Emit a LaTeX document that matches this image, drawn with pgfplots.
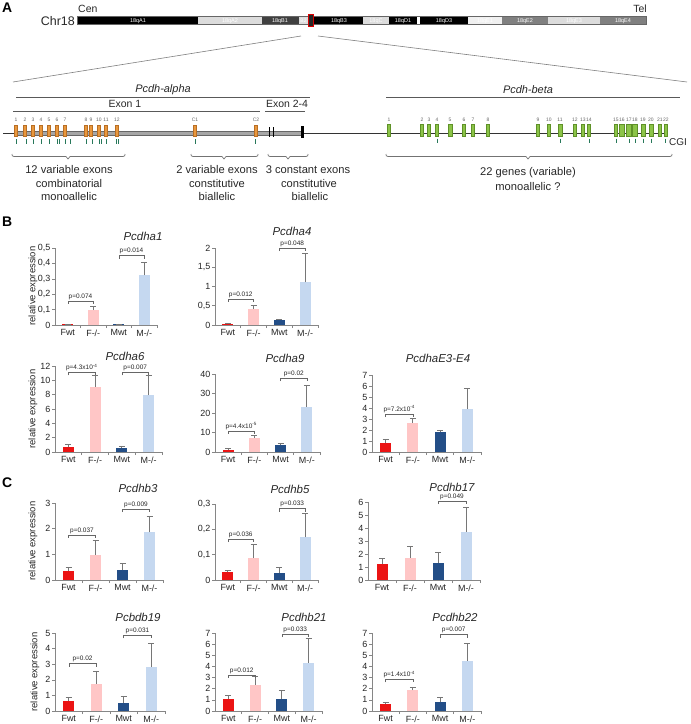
\documentclass[border=0pt]{standalone}
\usepackage{fontspec}
\setmainfont{Liberation Sans}
\usepackage{pgfplots}
\pgfplotsset{compat=1.18}
\usetikzlibrary{calc}

\definecolor{cFwt}{RGB}{235,20,20}
\definecolor{cFko}{RGB}{255,198,198}
\definecolor{cMwt}{RGB}{35,78,135}
\definecolor{cMko}{RGB}{197,216,240}
\definecolor{axgray}{RGB}{134,134,134}
\definecolor{errgray}{RGB}{118,118,118}
\definecolor{exor}{RGB}{232,152,62}
\definecolor{exorD}{RGB}{185,110,35}
\definecolor{bgr}{RGB}{140,196,72}
\definecolor{bgrD}{RGB}{95,145,40}
\definecolor{cgi}{RGB}{40,120,90}
\definecolor{txt}{RGB}{40,40,40}
\definecolor{bandL}{RGB}{220,220,220}
\definecolor{bandW}{RGB}{240,240,240}
\definecolor{bandG}{RGB}{128,128,128}
\definecolor{bandD}{RGB}{64,64,64}

\newcommand{\fs}[1]{\fontsize{#1}{#1}\selectfont}

\pgfplotsset{
  rx/.style={
    scale only axis, clip=false, anchor=south west,
    xmin=0, xmax=4, ymin=0,
    axis x line*=bottom, axis y line*=left,
    axis line style={draw=axgray, line width=0.7bp},
    xtick={0.5,1.5,2.5,3.5}, xticklabels={Fwt,F-/-,Mwt,M-/-},
    minor xtick={1,2,3,4},
    major x tick style={draw=none},
    minor x tick style={draw=axgray, line width=0.6bp},
    y tick style={draw=axgray, line width=0.6bp},
    tick align=outside, major tick length=3bp, minor tick length=3bp,
    tick label style={font=\fs{9}, text=black!85},
    xticklabel style={inner sep=1.5bp},
    yticklabel style={/pgf/number format/use comma, /pgf/number format/fixed, /pgf/number format/assume math mode=true, inner sep=1.5bp},
  },
  bb/.style={ybar, bar width=11bp, bar shift=0pt, draw=none,
    error bars/y dir=plus, error bars/y explicit,
    error bars/error bar style={draw=errgray, line width=0.8bp},
    error bars/error mark options={draw=errgray, line width=0.8bp, mark size=3bp, rotate=90}},
}
% x1, x2, level, leg bottom, text
\newcommand{\pbr}[5]{%
  \draw[draw=black!60, line width=0.5bp] (axis cs:#1,#4) -- (axis cs:#1,#3) -- (axis cs:#2,#3) -- (axis cs:#2,#4);
  \node[font=\fs{6.5}, text=black!85, anchor=south, inner sep=1.2bp] at ($(axis cs:#1,#3)!0.5!(axis cs:#2,#3)$) {#5};
}

\begin{document}
\begin{tikzpicture}
\useasboundingbox (0,0) rectangle (691bp,-724bp);
\fill[white] (0,0) rectangle (691bp,-724bp);

\begin{scope}[x=1bp,y=-1bp]
% panel letters
\node[font=\fs{14}\bfseries, anchor=west, inner sep=0] at (2,8) {A};
\node[font=\fs{14}\bfseries, anchor=west, inner sep=0] at (2,222) {B};
\node[font=\fs{14}\bfseries, anchor=west, inner sep=0] at (2,483) {C};

% chromosome
\node[font=\fs{12.5}, anchor=east, inner sep=0, text=txt] at (75,21) {Chr18};
\node[font=\fs{10.5}, anchor=west, inner sep=0, text=txt] at (78,9) {Cen};
\node[font=\fs{10.5}, anchor=east, inner sep=0, text=txt] at (647,9) {Tel};
\foreach \a/\b/\c in {77/198/black, 198/262/bandL, 262/299/bandD, 299/308/bandL, 308/313/black, 313/363/black, 363/389/bandL, 389/417/black, 417/420/white, 420/468/black, 468/502/bandW, 502/548/bandG, 548/600/bandL, 600/646/bandG}
  \fill[\c] (\a,16.5) rectangle (\b,24.5);
\draw[black!60, line width=0.4bp] (77,16.5) rectangle (646,24.5);
\foreach \x/\t in {138/18qA1, 230/18qA2, 280/18qB1, 339/18qB3, 376/18qC, 403/18qD1, 444/18qD3, 485/18qE1, 525/18qE2, 574/18qE3, 623/18qE4}
  \node[font=\fs{5.5}, text=white, inner sep=0] at (\x,20.7) {\t};
\node[font=\fs{5}, text=white, inner sep=0] at (303.5,20.7) {B2};
\draw[red!85!black, line width=1bp, fill=black!85] (308,14.5) rectangle (313.5,26.5);
\draw[gray, line width=0.6bp] (301,36) -- (13,82);
\draw[gray, line width=0.6bp] (318,36) -- (687,82);

% cluster headers
\node[font=\fs{11}\itshape, text=txt] at (163,90) {Pcdh-alpha};
\draw[black!65, line width=0.7bp] (16,97) -- (310,97);
\node[font=\fs{10.5}, text=txt] at (125,104) {Exon 1};
\node[font=\fs{10.5}, text=txt] at (287,104) {Exon 2-4};
\draw[black!65, line width=0.7bp] (13,111) -- (260,111);
\draw[black!65, line width=0.7bp] (265,111) -- (305,111);
\node[font=\fs{11}\itshape, text=txt] at (528,90) {Pcdh-beta};
\draw[black!65, line width=0.7bp] (386,97) -- (680,97);

% gene track
\draw[black!80, line width=0.8bp] (3,133) -- (668,133);
\fill[black!35] (16,131) rectangle (302,135);
\draw[black!60, line width=0.5bp] (16,131) -- (302,131) (16,135) -- (302,135);
\foreach \x/\l in {16/1,25/2,33/3,41/4,49/5,57/6,65/7,86/8,91/9,99/10,106/11,117/12,195/C1,256/C2} {
  \draw[exorD, fill=exor, line width=0.4bp] (\x-1.5,125) rectangle (\x+1.5,136.5);
  \node[font=\fs{5}, text=black!60, inner sep=0] at (\x,120) {\l};
}
\fill[black] (268.5,127) rectangle (269.5,137);
\fill[black] (272.5,127) rectangle (273.5,137);
\fill[black] (300.5,126) rectangle (303.5,137.5);
\foreach \x in {16,26,33,41,49,57,59,65,70,86,92,99,101,106,116,118,195,255}
  \draw[cgi, line width=0.6bp] (\x,139) -- (\x,143.5);
\foreach \x/\w/\l in {389/3/1,422/3/2,429/3/3,437/3/4,450/4/5,464/3/6,473/3/7,488/3/8,538/3/9,549/3/10,560/4/11,575/3/12,583/3/13,589/3/14,616/3/15,622/5/16,629/5/17,635/5/18,643/4/19,651/4/20,660/3/21,666/3/22} {
  \draw[bgrD, fill=bgr, line width=0.4bp] (\x-\w/2,124) rectangle (\x+\w/2,136);
  \node[font=\fs{5}, text=black!60, inner sep=0] at (\x,119.5) {\l};
}
\foreach \x in {437,560,589,616,629,635,643,651,665}
  \draw[cgi, line width=0.6bp] (\x,138.5) -- (\x,143);
\node[font=\fs{10}, anchor=west, inner sep=0, text=txt] at (669,142) {CGI};

% braces
\foreach \a/\c/\b in {12/68/125, 191/224/258, 268/288/308, 386/528/672}
  \draw[black!55, line width=0.7bp] (\a,154) .. controls (\a,156) .. (\a+2,156.5) -- (\c-2,156.5) -- (\c,159) -- (\c+2,156.5) -- (\b-2,156.5) .. controls (\b,156) .. (\b,154);

\begin{scope}[every node/.style={font=\fs{11.2}, text=txt, inner sep=0}]
\node at (69,170) {12 variable exons};
\node at (69,183.5) {combinatorial};
\node at (69,197) {monoallelic};
\node at (217,170) {2 variable exons};
\node at (217,183.5) {constitutive};
\node at (217,197) {biallelic};
\node at (308,170) {3 constant exons};
\node at (309,183.5) {constitutive};
\node at (310,197) {biallelic};
\node at (528,173) {22 genes (variable)};
\node at (528,187) {monoallelic ?};
\end{scope}

% chart titles and y labels
\begin{scope}[every node/.style={font=\fs{11.5}\itshape, text=txt, inner sep=0}]
\node at (143,236) {Pcdha1};
\node at (292,231) {Pcdha4};
\node at (125,356) {Pcdha6};
\node at (285,358) {Pcdha9};
\node at (438,358) {PcdhaE3-E4};
\node at (138,488) {Pcdhb3};
\node at (290,489) {Pcdhb5};
\node at (452,487) {Pcdhb17};
\node at (138,617) {Pcbdb19};
\node at (304,617) {Pcdhb21};
\node at (455,617) {Pcdhb22};
\end{scope}
\begin{scope}[every node/.style={font=\fs{9.5}, text=black!85, inner sep=0, rotate=90}]
\node at (33,286) {relative expression};
\node at (33,409) {relative expression};
\node at (33,541) {relative expression};
\node at (35,672) {relative expression};
\end{scope}
\end{scope}

% ---------------- Pcdha1
\begin{axis}[rx, at={(55bp,-325bp)}, width=102bp, height=77bp, ymax=0.5, ytick={0,0.1,0.2,0.3,0.4,0.5}]
\addplot[bb, fill=cFwt] coordinates {(0.5,0.004) +- (0,0.002)};
\addplot[bb, fill=cFko] coordinates {(1.5,0.097) +- (0,0.026)};
\addplot[bb, fill=cMwt] coordinates {(2.5,0.005) +- (0,0.002)};
\addplot[bb, fill=cMko] coordinates {(3.5,0.322) +- (0,0.084)};
\pbr{0.5}{1.5}{0.156}{0.137}{p=0.074}
\pbr{2.5}{3.5}{0.45}{0.431}{p=0.014}
\end{axis}
% ---------------- Pcdha4
\begin{axis}[rx, at={(215bp,-325bp)}, width=103bp, height=77bp, ymax=2, ytick={0,0.5,1,1.5,2}]
\addplot[bb, fill=cFwt] coordinates {(0.5,0.03) +- (0,0.01)};
\addplot[bb, fill=cFko] coordinates {(1.5,0.42) +- (0,0.09)};
\addplot[bb, fill=cMwt] coordinates {(2.5,0.14) +- (0,0.015)};
\addplot[bb, fill=cMko] coordinates {(3.5,1.11) +- (0,0.74)};
\pbr{0.5}{1.5}{0.68}{0.60}{p=0.012}
\pbr{2.5}{3.5}{2.0}{1.92}{p=0.048}
\end{axis}
% ---------------- Pcdha6
\begin{axis}[rx, at={(55bp,-452bp)}, width=107bp, height=86bp, ymax=12, ytick={0,2,4,6,8,10,12}]
\addplot[bb, fill=cFwt] coordinates {(0.5,0.65) +- (0,0.35)};
\addplot[bb, fill=cFko] coordinates {(1.5,9.1) +- (0,1.6)};
\addplot[bb, fill=cMwt] coordinates {(2.5,0.55) +- (0,0.3)};
\addplot[bb, fill=cMko] coordinates {(3.5,7.9) +- (0,2.8)};
\pbr{0.5}{1.5}{11.1}{10.7}{p=4.3x10\textsuperscript{-4}}
\pbr{2.5}{3.5}{11.1}{10.7}{p=0.007}
\end{axis}
% ---------------- Pcdha9
\begin{axis}[rx, at={(215bp,-452bp)}, width=105bp, height=78bp, ymax=40, ytick={0,10,20,30,40}]
\addplot[bb, fill=cFwt] coordinates {(0.5,1.2) +- (0,0.5)};
\addplot[bb, fill=cFko] coordinates {(1.5,7.3) +- (0,1.0)};
\addplot[bb, fill=cMwt] coordinates {(2.5,3.6) +- (0,1.0)};
\addplot[bb, fill=cMko] coordinates {(3.5,23.2) +- (0,11.0)};
\pbr{0.5}{1.5}{10.8}{9.3}{p=4.4x10\textsuperscript{-5}}
\pbr{2.5}{3.5}{37.8}{36.3}{p=0.02}
\end{axis}
% ---------------- PcdhaE3-E4
\begin{axis}[rx, at={(372bp,-452bp)}, width=109bp, height=77bp, ymax=7, ytick={0,1,2,3,4,5,6,7}]
\addplot[bb, fill=cFwt] coordinates {(0.5,0.8) +- (0,0.35)};
\addplot[bb, fill=cFko] coordinates {(1.5,2.65) +- (0,0.38)};
\addplot[bb, fill=cMwt] coordinates {(2.5,1.8) +- (0,0.2)};
\addplot[bb, fill=cMko] coordinates {(3.5,3.9) +- (0,1.9)};
\pbr{0.5}{1.5}{3.45}{3.18}{p=7.2x10\textsuperscript{-4}}
\end{axis}
% ---------------- Pcdhb3
\begin{axis}[rx, at={(55bp,-580bp)}, width=108bp, height=77bp, ymax=3, ytick={0,1,2,3}]
\addplot[bb, fill=cFwt] coordinates {(0.5,0.37) +- (0,0.13)};
\addplot[bb, fill=cFko] coordinates {(1.5,0.98) +- (0,0.57)};
\addplot[bb, fill=cMwt] coordinates {(2.5,0.4) +- (0,0.23)};
\addplot[bb, fill=cMko] coordinates {(3.5,1.86) +- (0,0.63)};
\pbr{0.5}{1.5}{1.76}{1.64}{p=0.037}
\pbr{2.5}{3.5}{2.76}{2.64}{p=0.009}
\end{axis}
% ---------------- Pcdhb5
\begin{axis}[rx, at={(215bp,-580bp)}, width=103bp, height=76bp, ymax=0.3, ytick={0,0.1,0.2,0.3}]
\addplot[bb, fill=cFwt] coordinates {(0.5,0.03) +- (0,0.007)};
\addplot[bb, fill=cFko] coordinates {(1.5,0.086) +- (0,0.053)};
\addplot[bb, fill=cMwt] coordinates {(2.5,0.028) +- (0,0.02)};
\addplot[bb, fill=cMko] coordinates {(3.5,0.168) +- (0,0.095)};
\pbr{0.5}{1.5}{0.162}{0.150}{p=0.036}
\pbr{2.5}{3.5}{0.282}{0.270}{p=0.033}
\end{axis}
% ---------------- Pcdhb17
\begin{axis}[rx, at={(368bp,-580bp)}, width=112bp, height=78bp, ymax=6, ytick={0,1,2,3,4,5,6}]
\addplot[bb, fill=cFwt] coordinates {(0.5,1.2) +- (0,0.44)};
\addplot[bb, fill=cFko] coordinates {(1.5,1.72) +- (0,0.9)};
\addplot[bb, fill=cMwt] coordinates {(2.5,1.28) +- (0,0.86)};
\addplot[bb, fill=cMko] coordinates {(3.5,3.72) +- (0,1.83)};
\pbr{2.5}{3.5}{6.06}{5.83}{p=0.049}
\end{axis}
% ---------------- Pcbdb19
\begin{axis}[rx, at={(55bp,-711bp)}, width=110bp, height=78bp, ymax=5, ytick={0,1,2,3,4,5}]
\addplot[bb, fill=cFwt] coordinates {(0.5,0.63) +- (0,0.22)};
\addplot[bb, fill=cFko] coordinates {(1.5,1.75) +- (0,0.82)};
\addplot[bb, fill=cMwt] coordinates {(2.5,0.52) +- (0,0.44)};
\addplot[bb, fill=cMko] coordinates {(3.5,2.82) +- (0,1.5)};
\pbr{0.5}{1.5}{3.03}{2.84}{p=0.02}
\pbr{2.5}{3.5}{4.85}{4.66}{p=0.031}
\end{axis}
% ---------------- Pcdhb21
\begin{axis}[rx, at={(215bp,-711bp)}, width=107bp, height=78bp, ymax=7, ytick={0,1,2,3,4,5,6,7}]
\addplot[bb, fill=cFwt] coordinates {(0.5,1.1) +- (0,0.33)};
\addplot[bb, fill=cFko] coordinates {(1.5,2.35) +- (0,0.8)};
\addplot[bb, fill=cMwt] coordinates {(2.5,1.1) +- (0,0.72)};
\addplot[bb, fill=cMko] coordinates {(3.5,4.35) +- (0,2.15)};
\pbr{0.5}{1.5}{3.24}{2.97}{p=0.012}
\pbr{2.5}{3.5}{6.9}{6.63}{p=0.033}
\end{axis}
% ---------------- Pcdhb22
\begin{axis}[rx, at={(372bp,-711bp)}, width=109bp, height=78bp, ymax=7, ytick={0,1,2,3,4,5,6,7}]
\addplot[bb, fill=cFwt] coordinates {(0.5,0.6) +- (0,0.18)};
\addplot[bb, fill=cFko] coordinates {(1.5,1.85) +- (0,0.27)};
\addplot[bb, fill=cMwt] coordinates {(2.5,0.78) +- (0,0.42)};
\addplot[bb, fill=cMko] coordinates {(3.5,4.5) +- (0,1.6)};
\pbr{0.5}{1.5}{2.85}{2.58}{p=1.4x10\textsuperscript{-4}}
\pbr{2.5}{3.5}{6.85}{6.58}{p=0.007}
\end{axis}
\end{tikzpicture}
\end{document}
